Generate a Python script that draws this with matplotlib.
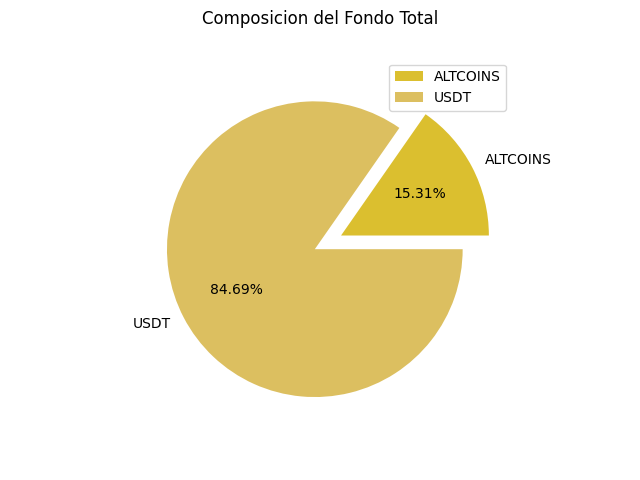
import matplotlib

matplotlib.use("Agg")
import matplotlib.pyplot as plt

labels = ["ALTCOINS", "USDT"]
values = [15.31, 84.69]
colors = ["#DBBF2F", "#DCBF60"]
explode = [0.2, 0]

fig = plt.figure(figsize=(6.4, 4.8), dpi=100)
ax = fig.add_axes([0.1044, 0.09585, 0.775, 0.77])
ax.pie(values, labels=labels, colors=colors, explode=explode, autopct="%1.2f%%")
fig.suptitle("Composicion del Fondo Total", fontsize=12)
fig.legend(ax.patches, labels, loc="upper right", bbox_to_anchor=(0.8016, 0.88))
fig.savefig("out.png")
